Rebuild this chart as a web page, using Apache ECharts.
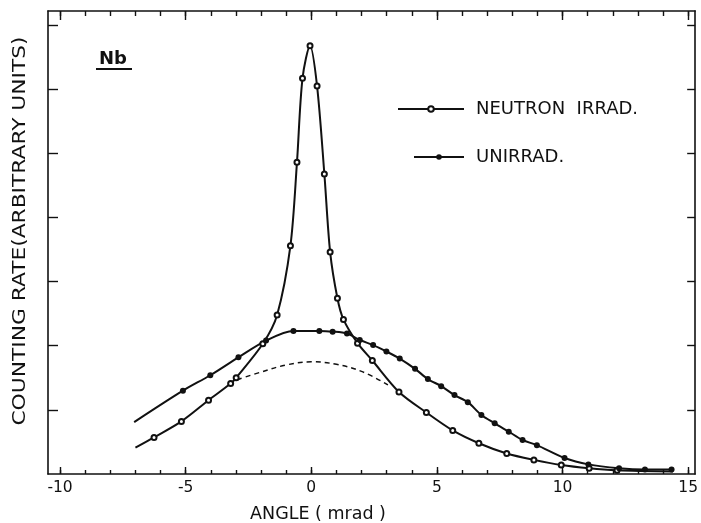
<!DOCTYPE html>
<html>
<head>
<meta charset="utf-8">
<script src="https://cdn.jsdelivr.net/npm/echarts@6/dist/echarts.min.js"></script>
<style>html,body{margin:0;padding:0;background:#fff}#c{width:701px;height:523px}</style>
</head>
<body>
<div id="c"></div>
<script>
// ---- data ----
const neutronX = [-7.0, -6.26, -5.17, -4.09, -3.21, -2.99, -1.93, -1.36, -0.83, -0.57, -0.35, -0.05, 0.23, 0.52, 0.75, 1.04, 1.28, 1.84, 2.43, 3.49, 4.58, 5.63, 6.67, 7.78, 8.86, 9.95, 11.06, 12.17, 14.4];
const neutronY = [0.41, 0.57, 0.82, 1.15, 1.41, 1.50, 2.03, 2.48, 3.56, 4.86, 6.17, 6.68, 6.05, 4.68, 3.46, 2.74, 2.41, 2.04, 1.77, 1.28, 0.96, 0.68, 0.48, 0.32, 0.22, 0.14, 0.09, 0.06, 0.04];
const unirrX = [-7.05, -5.11, -4.02, -2.90, -1.80, -0.71, 0.32, 0.85, 1.42, 1.93, 2.46, 2.99, 3.52, 4.13, 4.64, 5.17, 5.70, 6.23, 6.77, 7.30, 7.86, 8.41, 8.98, 10.08, 11.03, 12.25, 13.28, 14.34];
const unirrY = [0.81, 1.30, 1.54, 1.82, 2.08, 2.23, 2.23, 2.22, 2.19, 2.09, 2.01, 1.91, 1.80, 1.64, 1.48, 1.37, 1.23, 1.12, 0.92, 0.79, 0.66, 0.53, 0.45, 0.25, 0.15, 0.09, 0.07, 0.07];
const dashedX = [-2.95, -2, -1, 0, 1, 2, 3.05];
const dashedY = [1.47, 1.59, 1.70, 1.75, 1.71, 1.60, 1.39];
const xMajorTicks = [-10, -5, 0, 5, 10, 15];
const xMinorTicks = [-10, -9, -8, -7, -6, -5, -4, -3, -2, -1, 0, 1, 2, 3, 4, 5, 6, 7, 8, 9, 10, 11, 12, 13, 14, 15];
const yTicks = [1, 2, 3, 4, 5, 6, 7];
const seriesNames = ['NEUTRON  IRRAD.', 'UNIRRAD.'];
const xTitle = 'ANGLE ( mrad )';
const yTitle = 'COUNTING RATE(ARBITRARY UNITS)';
const panelLabel = 'Nb';

// ---- build ----
const XMIN = -10.48, XMAX = 15.28, YMIN = 0, YMAX = 7.22;
const FONT = '"DejaVu Sans", sans-serif';
const black = '#111';

function pts(xs, ys, noMarkEnds) {
  return xs.map((x, i) => {
    const p = { value: [x, ys[i]] };
    if (noMarkEnds && (i === 0 || (noMarkEnds === 2 && i === xs.length - 1))) p.symbol = 'none';
    return p;
  });
}

function xAx(pos, ticks, len, showLine, showLabel) {
  return {
    type: 'value', position: pos, min: XMIN, max: XMAX,
    axisLine: { show: showLine, onZero: false, lineStyle: { color: black, width: 1.6 } },
    axisTick: { show: true, inside: true, length: len, customValues: ticks, lineStyle: { color: black, width: 1.4 } },
    axisLabel: { show: showLabel, customValues: ticks, color: black, fontFamily: FONT, fontSize: 15.5, margin: 6 },
    splitLine: { show: false }
  };
}
function yAx(pos, len) {
  return {
    type: 'value', position: pos, min: YMIN, max: YMAX,
    axisLine: { show: true, onZero: false, lineStyle: { color: black, width: 1.6 } },
    axisTick: { show: true, inside: true, length: len, customValues: yTicks, lineStyle: { color: black, width: 1.4 } },
    axisLabel: { show: false },
    splitLine: { show: false }
  };
}

const chart = echarts.init(document.getElementById('c'), null, { renderer: 'canvas' });
chart.setOption({
  animation: false,
  backgroundColor: '#fff',
  grid: { left: 48, right: 4, top: 11, bottom: 49, containLabel: false },
  xAxis: [
    xAx('bottom', xMajorTicks, 7, true, true),
    xAx('bottom', xMinorTicks, 4, false, false),
    xAx('top', xMajorTicks, 9, true, false),
    xAx('top', xMinorTicks, 5, false, false)
  ],
  yAxis: [yAx('left', 10), yAx('right', 8)],
  legend: [
    {
      left: 397, top: 100, padding: 0, itemWidth: 66, itemHeight: 7, selectedMode: false,
      data: [{ name: seriesNames[0], itemStyle: { color: black, borderColor: black } }],
      textStyle: { color: black, fontFamily: FONT, fontSize: 18, padding: [0, 0, 0, 7] }
    },
    {
      left: 413, top: 148, padding: 0, itemWidth: 50, itemHeight: 7, selectedMode: false,
      data: [seriesNames[1]],
      textStyle: { color: black, fontFamily: FONT, fontSize: 18, padding: [0, 0, 0, 7] }
    }
  ],
  series: [
    {
      name: seriesNames[0], type: 'line', smooth: 0.3,
      data: pts(neutronX, neutronY, 2),
      symbol: 'emptyCircle', symbolSize: 5,
      lineStyle: { color: black, width: 2 },
      itemStyle: { color: black, borderColor: black, borderWidth: 1.6 }
    },
    {
      name: seriesNames[1], type: 'line', smooth: 0.3,
      data: pts(unirrX, unirrY, 1),
      symbol: 'circle', symbolSize: 6,
      lineStyle: { color: black, width: 2 },
      itemStyle: { color: black }
    },
    {
      name: 'dashed', type: 'line', smooth: 0.4,
      data: pts(dashedX, dashedY, 0),
      symbol: 'none',
      lineStyle: { color: black, width: 1.5, type: [5, 4] }
    }
  ],
  graphic: [
    {
      type: 'text', left: 99, top: 50,
      style: { text: panelLabel, fill: black, font: 'bold 18px ' + FONT }
    },
    {
      type: 'line', shape: { x1: 96, y1: 69, x2: 132, y2: 69 },
      style: { stroke: black, lineWidth: 2 }
    },
    {
      type: 'text', x: 21, y: 231, rotation: Math.PI / 2, scaleX: 1.28,
      style: { text: yTitle, fill: black, font: '17px ' + FONT, align: 'center', verticalAlign: 'middle' }
    },
    {
      type: 'text', x: 318, y: 514,
      style: { text: xTitle, fill: black, font: '17.5px ' + FONT, align: 'center', verticalAlign: 'middle' }
    }
  ]
});
</script>
</body>
</html>
